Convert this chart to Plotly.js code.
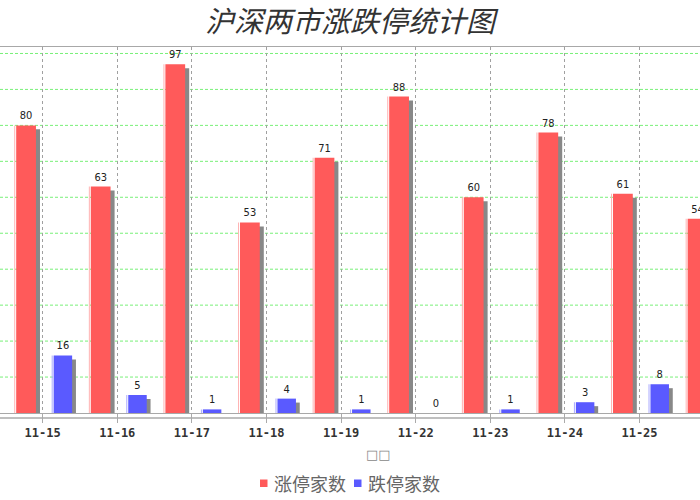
<!DOCTYPE html>
<html><head><meta charset="utf-8">
<script src="https://cdn.plot.ly/plotly-3.0.1.min.js"></script>
<style>html,body{margin:0;padding:0;background:#fff}#chart{width:700px;height:500px}</style>
</head><body><div id="chart"></div>
<script>
// ---- data ----
const chartTitle = '沪深两市涨跌停统计图';
const xAxisTitle = '□□';
const categories = ['11-15','11-16','11-17','11-18','11-19','11-22','11-23','11-24','11-25','11-26'];
const seriesNames = ['涨停家数','跌停家数'];
const limitUp   = [80, 63, 97, 53, 71, 88, 60, 78, 61, 54];
const limitDown = [16, 5, 1, 4, 1, 0, 1, 3, 8, null];
const gridValues = [10, 20, 30, 40, 50, 60, 70, 80, 90, 100];

// ---- style ----
const RED = '#ff5a5a', BLUE = '#5a5aff', SHADOW = '#888888';
const labelFont = {family: 'DejaVu Sans Condensed, DejaVu Sans', size: 11, color: '#222'};
const shadowDrop = -1.1;

const W = 700, H = 500, TOP = 47, BOTTOM = 413;
const plotH = BOTTOM - TOP;
const py = p => (BOTTOM - p) / plotH;   // pixel row -> paper y
const px = p => p / W;                  // pixel col -> paper x

function bar(y, color, offset, width, extra) {
  return Object.assign({
    type: 'bar', x: categories, y: y, offset: offset, width: width,
    marker: {color: color, line: {width: 0}},
    hoverinfo: 'skip', showlegend: false
  }, extra || {});
}

const traces = [
  bar(limitUp, SHADOW, -0.327, 0.291, {base: shadowDrop}),
  bar(limitDown, SHADOW, 0.174, 0.272, {base: shadowDrop}),
  bar(limitUp, RED, -0.355, 0.265, {
    name: seriesNames[0],
    text: limitUp.map(String), textposition: 'outside',
    textfont: labelFont, outsidetextfont: labelFont, cliponaxis: false
  }),
  bar(limitDown, BLUE, 0.147, 0.248, {
    name: seriesNames[1],
    text: limitDown.map(v => v === null ? '' : String(v)), textposition: 'outside',
    textfont: labelFont, outsidetextfont: labelFont, cliponaxis: false
  }),
  bar(limitUp, '#ffb0b0', -0.381, 0.013),
  bar(limitDown, '#a8a8ff', 0.121, 0.013)
];

// horizontal green dashed gridlines
const shapes = gridValues.map(v => ({
  type: 'line', xref: 'paper', yref: 'y', layer: 'below',
  x0: 0, x1: 1, y0: v, y1: v,
  line: {color: 'rgb(120,240,120)', width: 1, dash: '3px,2px'}
}));
// x axis line offset below the plot
shapes.push({
  type: 'line', xref: 'paper', yref: 'paper',
  x0: 0, x1: 1, y0: py(418), y1: py(418),
  line: {color: '#aaaaaa', width: 1.5}
});

// manual legend (squares + labels)
const legendItems = [
  {color: RED, name: seriesNames[0], sq: 260, tx: 272},
  {color: BLUE, name: seriesNames[1], sq: 354, tx: 366}
];
const legendY = 483;
const annotations = [{
  text: xAxisTitle, xref: 'paper', yref: 'paper',
  x: px(378), y: py(455), xanchor: 'center', yanchor: 'middle',
  showarrow: false, font: {family: 'DejaVu Sans', size: 13, color: '#888'}
}];
legendItems.forEach(it => {
  shapes.push({
    type: 'rect', xref: 'paper', yref: 'paper',
    x0: px(it.sq), x1: px(it.sq + 7.5), y0: py(legendY - 3.5), y1: py(legendY + 4),
    fillcolor: it.color, line: {width: 0}
  });
  annotations.push({
    text: it.name, xref: 'paper', yref: 'paper',
    x: px(it.tx), y: py(legendY), xanchor: 'left', yanchor: 'middle',
    showarrow: false,
    font: {family: 'Noto Sans CJK SC', size: 18, color: '#666'}
  });
});

const layout = {
  width: W, height: H,
  margin: {l: 0, r: 0, t: TOP, b: H - BOTTOM, pad: 0},
  paper_bgcolor: '#fff', plot_bgcolor: '#fff',
  barmode: 'overlay',
  showlegend: false,
  hovermode: false,
  title: {
    text: chartTitle, x: 0.5, xanchor: 'center', xref: 'paper',
    y: 1 - 22/500, yref: 'container', yanchor: 'middle',
    font: {family: 'Noto Sans CJK SC', size: 29, color: '#333', style: 'italic'}
  },
  xaxis: {
    type: 'category', range: [-0.572, 8.811],
    showgrid: true, gridcolor: '#a0a0a0', griddash: 'dot', gridwidth: 1,
    showline: true, mirror: true, linecolor: '#a8a8a8', linewidth: 1,
    ticks: 'outside', ticklen: 9, tickcolor: '#aaa', tickwidth: 1,
    tickfont: {family: 'DejaVu Sans Mono', size: 12, color: '#333', weight: 'bold'},
    fixedrange: true, automargin: false
  },
  yaxis: {
    range: [0, 101.8],
    showticklabels: false, ticks: '',
    showgrid: false,
    zeroline: true, zerolinecolor: '#bbbbbb', zerolinewidth: 1,
    showline: false, fixedrange: true, automargin: false
  },
  shapes: shapes,
  annotations: annotations
};

Plotly.newPlot('chart', traces, layout, {staticPlot: true, displayModeBar: false});
</script>
</body></html>
